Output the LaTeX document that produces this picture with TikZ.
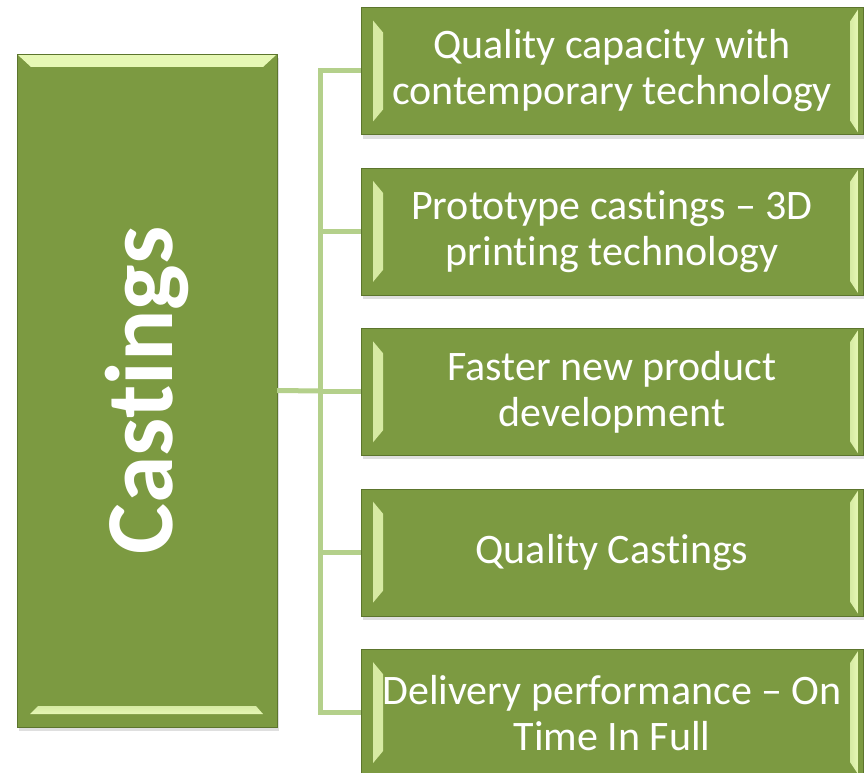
\documentclass[tikz,border=0pt]{standalone}
\usepackage{fontspec}
\setmainfont{Carlito}[Ligatures=NoCommon]
\usetikzlibrary{positioning,shadows}
\definecolor{boxgreen}{HTML}{7C9A41}
\definecolor{boxedge}{HTML}{5C752D}
\definecolor{bevellight}{HTML}{E6F8B4}
\definecolor{linkgreen}{HTML}{B4D08B}

\begin{document}
\begin{tikzpicture}[x=1pt,y=-1pt,node distance=33pt,font=\fontsize{42}{46}\selectfont]
  \tikzstyle{item}=[draw=boxedge,fill=boxgreen,text=white,minimum width=502pt,minimum height=127pt,align=center,inner sep=0pt,
    drop shadow={shadow xshift=2pt,shadow yshift=-4pt,opacity=.25},
    path picture={
      \fill[left color=bevellight!85!boxgreen,right color=bevellight]
        ([xshift=12pt,yshift=-13pt]path picture bounding box.north west) -- ([xshift=22pt,yshift=-25pt]path picture bounding box.north west)
        -- ([xshift=22pt,yshift=25pt]path picture bounding box.south west) -- ([xshift=12pt,yshift=13pt]path picture bounding box.south west) -- cycle;
      \fill[left color=bevellight!85!boxgreen,right color=bevellight]
        ([xshift=-13pt,yshift=-14pt]path picture bounding box.north east) -- ([xshift=-5pt,yshift=-2pt]path picture bounding box.north east)
        -- ([xshift=-5pt,yshift=2pt]path picture bounding box.south east) -- ([xshift=-13pt,yshift=14pt]path picture bounding box.south east) -- cycle;}]
  \tikzstyle{main}=[draw=boxedge,fill=boxgreen,text=white,minimum width=260pt,minimum height=673pt,inner sep=0pt,
    drop shadow={shadow xshift=2pt,shadow yshift=-4pt,opacity=.25},
    path picture={
      \fill[top color=bevellight,bottom color=bevellight!85!boxgreen]
        ([xshift=1pt,yshift=-1pt]path picture bounding box.north west) -- ([xshift=-1pt,yshift=-1pt]path picture bounding box.north east)
        -- ([xshift=-14pt,yshift=-13pt]path picture bounding box.north east) -- ([xshift=14pt,yshift=-13pt]path picture bounding box.north west) -- cycle;
      \fill[top color=bevellight!85!boxgreen,bottom color=bevellight]
        ([xshift=21pt,yshift=21pt]path picture bounding box.south west) -- ([xshift=-21pt,yshift=21pt]path picture bounding box.south east)
        -- ([xshift=-14pt,yshift=13pt]path picture bounding box.south east) -- ([xshift=13pt,yshift=13pt]path picture bounding box.south west) -- cycle;}]
  \tikzstyle{link}=[draw=linkgreen,line width=5pt]
  \useasboundingbox (0,0) rectangle (864,773);
  % right column
  \node[item] (quality) at (612,71) {Quality capacity with\\contemporary technology};
  \node[item,below=of quality] (proto) {Prototype castings -- 3D\\printing technology};
  \node[item,below=of proto] (faster) {Faster new product\\development};
  \node[item,below=of faster] (qcast) {Quality Castings};
  \node[item,below=of qcast] (delivery) {Delivery performance -- On\\Time In Full};
  % left box
  \node[main] (castings) at (147,390.5) {\rotatebox{90}{\fontsize{96}{96}\selectfont\bfseries Castings}};
  % connectors
  \coordinate (trunk) at (320,391);
  \draw[link] (castings.east) -- (trunk);
  \draw[link,line cap=rect] (trunk |- quality.west) -- (trunk |- delivery.west);
  \foreach \n in {quality,proto,faster,qcast,delivery}
    \draw[link] (trunk |- \n.west) -- (\n.west);
\end{tikzpicture}
\end{document}
